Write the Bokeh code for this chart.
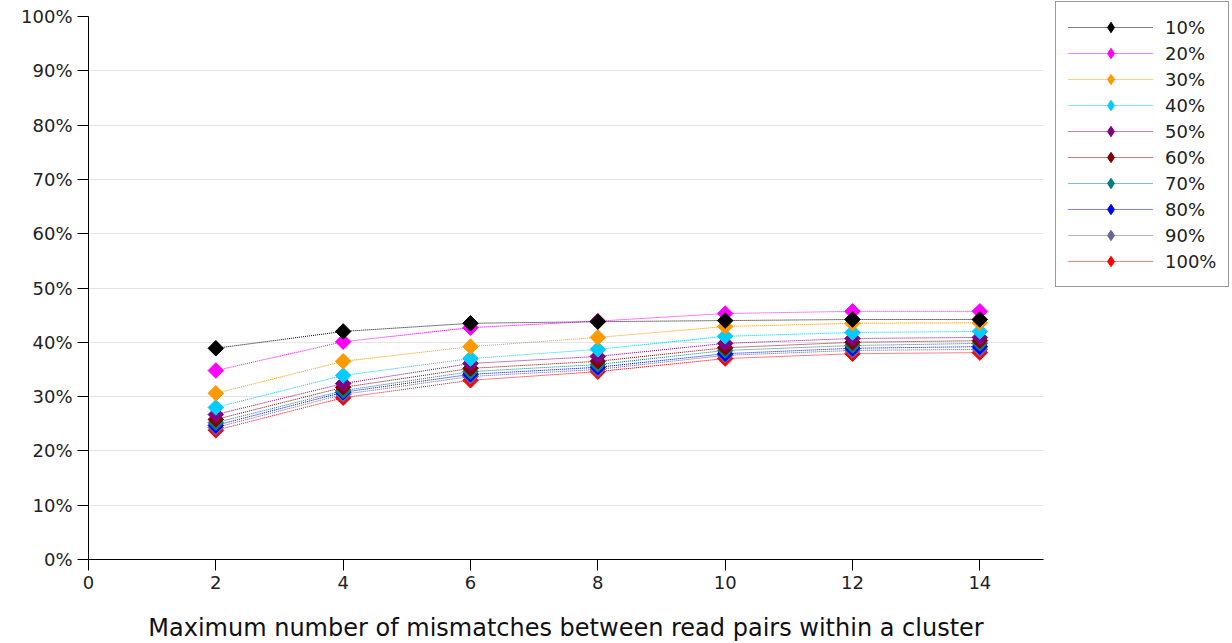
import math
from bokeh.plotting import figure
from bokeh.models import Legend, LegendItem, PrintfTickFormatter, FixedTicker, Range1d
from bokeh.embed import file_html
from bokeh.resources import INLINE

x_vals = [2, 4, 6, 8, 10, 12, 14]
series_names = ["10%", "20%", "30%", "40%", "50%", "60%", "70%", "80%", "90%", "100%"]
colors = ["#000000", "#ff00ff", "#ff9900", "#00ccff", "#800080",
          "#800000", "#008080", "#0000ff", "#666699", "#ff0000"]

s10 = [38.9, 42.0, 43.5, 43.8, 44.0, 44.2, 44.2]
s20 = [34.8, 40.1, 42.7, 43.9, 45.3, 45.7, 45.7]
s30 = [30.6, 36.5, 39.2, 40.9, 42.9, 43.5, 43.6]
s40 = [28.0, 33.9, 37.0, 38.7, 41.1, 41.8, 42.0]
s50 = [26.7, 32.4, 36.1, 37.4, 39.8, 40.7, 40.9]
s60 = [25.8, 31.7, 35.2, 36.5, 39.0, 40.0, 40.3]
s70 = [25.2, 31.1, 34.6, 35.9, 38.5, 39.4, 39.8]
s80 = [24.7, 30.8, 34.1, 35.4, 37.9, 38.9, 39.2]
s90 = [24.3, 30.4, 33.7, 35.0, 37.6, 38.5, 38.7]
s100 = [23.8, 29.8, 33.0, 34.6, 37.0, 37.9, 38.1]
all_series = [s10, s20, s30, s40, s50, s60, s70, s80, s90, s100]

x_ticks = [0, 2, 4, 6, 8, 10, 12, 14]
y_ticks = [0, 10, 20, 30, 40, 50, 60, 70, 80, 90, 100]
x_label = "Maximum number of mismatches between read pairs within a cluster"

p = figure(frame_width=955, frame_height=543, output_backend="svg", toolbar_location=None,
           x_range=Range1d(0, 15), y_range=Range1d(0, 100),
           min_border_left=88, min_border_top=16, min_border_bottom=78, min_border_right=0)
p.outline_line_color = None
p.xgrid.grid_line_color = None
p.ygrid.grid_line_color = "#c8c8c8"
p.ygrid.grid_line_dash = "1 1"
p.ygrid.grid_line_width = 1

rend_map = {}
for i in reversed(range(len(series_names))):
    ln = p.line(x_vals, all_series[i], line_color=colors[i], line_width=1, line_dash="1 1")
    p.scatter(x_vals, all_series[i], marker="square", size=11, angle=math.pi / 4,
              fill_color=colors[i], line_color=colors[i])
    # legend-only marker, placed outside the visible ranges, drawn as a diamond
    dummy = p.scatter(x=[-50], y=[-50], marker="diamond", fill_color=colors[i], line_color=colors[i])
    rend_map[i] = [ln, dummy]

items = [LegendItem(label=series_names[i], renderers=rend_map[i]) for i in range(len(series_names))]

legend = Legend(items=items, location=(12, 272))
legend.label_text_font = "DejaVu Sans"
legend.label_text_font_size = "18px"
legend.label_text_color = "#222222"
legend.glyph_width = 85
legend.glyph_height = 26
legend.label_height = 26
legend.spacing = 0
legend.padding = 12
legend.margin = 0
legend.label_standoff = 12
legend.border_line_color = "#333333"
legend.border_line_width = 1.5
legend.background_fill_alpha = 1
p.add_layout(legend, "right")

for ax in (p.xaxis[0], p.yaxis[0]):
    ax.axis_line_color = "black"
    ax.major_tick_line_color = "black"
    ax.major_tick_out = 11
    ax.major_tick_in = 0
    ax.minor_tick_line_color = None
    ax.major_label_text_font = "DejaVu Sans"
    ax.major_label_text_font_size = "18px"
    ax.major_label_text_color = "#222222"

p.xaxis[0].ticker = FixedTicker(ticks=x_ticks)
p.yaxis[0].ticker = FixedTicker(ticks=y_ticks)
p.yaxis[0].formatter = PrintfTickFormatter(format="%d%%")
p.xaxis[0].axis_label = x_label
p.xaxis[0].axis_label_text_font = "DejaVu Sans"
p.xaxis[0].axis_label_text_font_size = "24px"
p.xaxis[0].axis_label_text_font_style = "normal"
p.xaxis[0].axis_label_text_color = "#111111"
p.xaxis[0].axis_label_standoff = 22

open("out.html", "w").write(file_html(p, INLINE))
